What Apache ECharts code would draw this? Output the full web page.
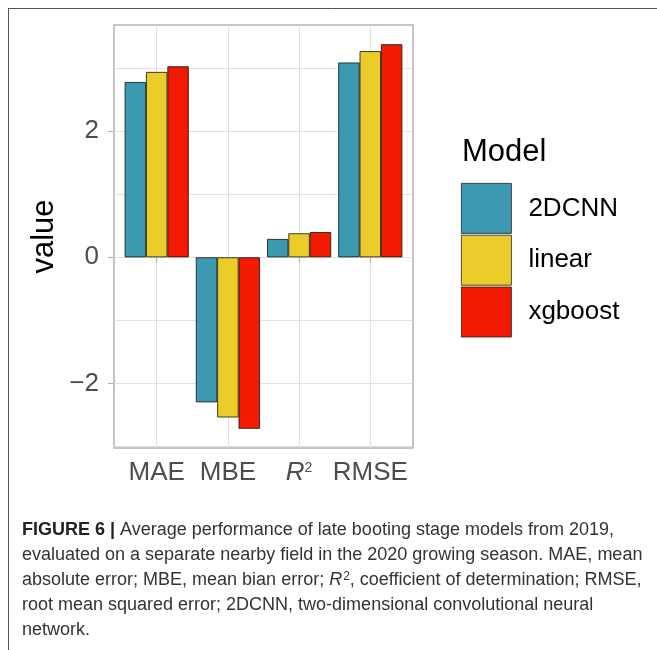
<!DOCTYPE html>
<html><head><meta charset="utf-8">
<script src="https://cdn.jsdelivr.net/npm/echarts@6/dist/echarts.min.js"></script>
<style>html,body{margin:0;padding:0;background:#fff}#c{width:657px;height:650px}</style>
</head><body><div id="c"></div>
<script>
const categories = ['MAE', 'MBE', 'R²', 'RMSE'];
const models = ['2DCNN', 'linear', 'xgboost'];
const cnnValues = [2.78, -2.30, 0.29, 3.09];
const linearValues = [2.94, -2.54, 0.38, 3.27];
const xgboostValues = [3.03, -2.72, 0.40, 3.38];
const gridTicks = [-3, -2, -1, 0, 1, 2, 3];
const yTickLabels = [-2, 0, 2];
const colors = ['#3B9AB2', '#EBCC2A', '#F21A00'];
const captionLines = [
  '{b|FIGURE 6 |} Average performance of late booting stage models from 2019,',
  'evaluated on a separate nearby field in the 2020 growing season. MAE, mean',
  'absolute error; MBE, mean bian error; {i|R}{s|2}, coefficient of determination; RMSE,',
  'root mean squared error; 2DCNN, two-dimensional convolutional neural',
  'network.'
];

const FONT = '"Liberation Sans", Arial, Helvetica, sans-serif';
const seriesValues = [cnnValues, linearValues, xgboostValues];
const positions = categories.map((c, i) => i + 1);
const yMin = -3.025, yMax = 3.685;

const chart = echarts.init(document.getElementById('c'), null, {renderer: 'canvas'});
const option = {
  animation: false,
  backgroundColor: '#fff',
  textStyle: {fontFamily: FONT},
  grid: {left: 114, top: 25, width: 299, height: 423, show: true, borderColor: '#b3b3b3', borderWidth: 1.5, backgroundColor: '#fff'},
  xAxis: [{
    type: 'value', min: 0.4, max: 4.6,
    axisLine: {show: false},
    axisTick: {show: true, length: 6, lineStyle: {color: '#b3b3b3', width: 1.2}, customValues: positions},
    axisLabel: {
      customValues: positions, margin: 12, fontSize: 26, lineHeight: 26, color: '#4d4d4d', fontFamily: FONT,
      formatter: v => {
        const name = categories[Math.round(v) - 1];
        return name === 'R²' ? '{i|R}{s|2}' : name;
      },
      rich: {
        i: {fontSize: 26, fontStyle: 'italic', color: '#4d4d4d', fontFamily: FONT, lineHeight: 26},
        s: {fontSize: 14, color: '#4d4d4d', fontFamily: FONT, verticalAlign: 'top', lineHeight: 26, padding: [1, 0, 0, 0]}
      }
    },
    splitLine: {show: true, lineStyle: {color: '#e1e1e1', width: 1}}
  }],
  yAxis: [{
    type: 'value', min: yMin, max: yMax,
    axisLine: {show: false},
    axisTick: {show: false, customValues: gridTicks},
    axisLabel: {show: false, customValues: gridTicks},
    splitLine: {show: true, lineStyle: {color: '#e1e1e1', width: 1}}
  }, {
    type: 'value', min: yMin, max: yMax, position: 'left',
    axisLine: {show: false},
    axisTick: {show: true, length: 6, lineStyle: {color: '#b3b3b3', width: 1.2}, customValues: yTickLabels},
    axisLabel: {
      customValues: yTickLabels, margin: 15, fontSize: 26, color: '#4d4d4d', fontFamily: FONT,
      formatter: v => (v < 0 ? '\u2212' + Math.abs(v) : String(v))
    },
    splitLine: {show: false},
    name: 'value', nameLocation: 'middle', nameGap: 54,
    nameTextStyle: {fontSize: 31, color: '#000', fontFamily: FONT}
  }],
  legend: {
    orient: 'vertical', left: 461, top: 183, padding: 0,
    itemWidth: 50, itemHeight: 50, itemGap: 1, icon: 'rect',
    itemStyle: {borderColor: '#222', borderWidth: 0.8},
    textStyle: {fontSize: 26, color: '#000', fontFamily: FONT, padding: [0, 0, 0, 12]},
    data: models
  },
  series: models.map((m, i) => ({
    name: m, type: 'bar', xAxisIndex: 0, yAxisIndex: 0,
    barGap: '0%', barCategoryGap: '10%',
    data: seriesValues[i].map((v, j) => [positions[j], v]),
    itemStyle: {color: colors[i], borderColor: '#111', borderWidth: 0.8}
  })),
  graphic: [
    {type: 'line', shape: {x1: 8, y1: 8.5, x2: 657, y2: 8.5}, style: {stroke: '#555', lineWidth: 1}},
    {type: 'line', shape: {x1: 8.5, y1: 8, x2: 8.5, y2: 650}, style: {stroke: '#555', lineWidth: 1}},
    {type: 'text', x: 462, y: 152, style: {text: 'Model', fontSize: 31, fontFamily: FONT, fill: '#000', verticalAlign: 'middle'}},
    {type: 'text', x: 22, y: 517.5, style: {
      text: captionLines.join('\n'), fontSize: 18, lineHeight: 25, fontFamily: FONT, fill: '#333',
      rich: {
        b: {fontSize: 18, fontWeight: 'bold', fontFamily: FONT, fill: '#222', lineHeight: 25},
        i: {fontSize: 18, fontStyle: 'italic', fontFamily: FONT, fill: '#333', lineHeight: 25},
        s: {fontSize: 12, fontFamily: FONT, fill: '#333', lineHeight: 25, verticalAlign: 'top', padding: [3, 0, 0, 1]}
      }
    }}
  ]
};
chart.setOption(option);
</script>
</body></html>
